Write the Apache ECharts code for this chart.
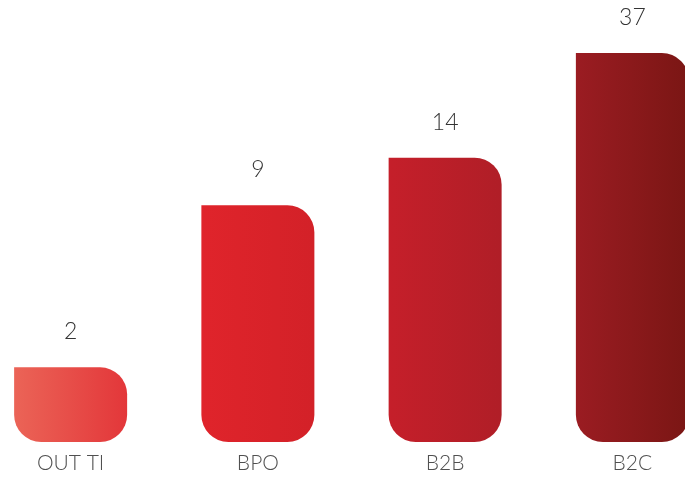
<!DOCTYPE html>
<html>
<head>
<meta charset="utf-8">
<script src="https://cdn.jsdelivr.net/npm/echarts@6/dist/echarts.min.js"></script>
<style>
  html, body { margin: 0; padding: 0; background: #ffffff; }
  #chart { width: 685px; height: 478px; }
</style>
</head>
<body>
<div id="chart"></div>
<script>
// Segment names and their counts
const categories = ['OUT TI', 'BPO', 'B2B', 'B2C'];
const values = [2, 9, 14, 37];

// Red ramp running across the whole row of bars, light coral to dark maroon
const rampStops = [
  [0.000, '#eb6457'],
  [0.167, '#e3373a'],
  [0.277, '#e0242b'],
  [0.444, '#d32128'],
  [0.555, '#c51f2a'],
  [0.722, '#b01e27'],
  [0.831, '#9b1c22'],
  [1.000, '#7a1614']
];

const chart = echarts.init(document.getElementById('chart'), null, { renderer: 'canvas' });

const barFill = {
  type: 'linear',
  x: 14, y: 0, x2: 689, y2: 0,
  global: true,
  colorStops: rampStops.map(([offset, color]) => ({ offset, color }))
};

const labelFont = 'Lato, "Open Sans", sans-serif';

chart.setOption({
  animation: false,
  backgroundColor: '#ffffff',
  grid: {
    left: -23, right: -41, top: 53, bottom: 36,
    containLabel: false,
    outerBoundsMode: 'none'
  },
  xAxis: {
    type: 'category',
    data: categories,
    axisLine: { show: false },
    axisTick: { show: false },
    axisLabel: {
      margin: 11,
      fontFamily: labelFont,
      fontWeight: 300,
      fontSize: 21,
      color: '#505050'
    }
  },
  yAxis: {
    type: 'log',
    logBase: 10,
    min: 1,
    max: 37,
    show: false,
    splitLine: { show: false }
  },
  series: [{
    type: 'bar',
    data: values,
    barWidth: 113,
    itemStyle: {
      color: barFill,
      borderRadius: [0, 27, 27, 27]
    },
    label: {
      show: true,
      position: 'top',
      distance: 24,
      fontFamily: labelFont,
      fontWeight: 300,
      fontSize: 23,
      color: '#333333'
    }
  }]
});
</script>
</body>
</html>
